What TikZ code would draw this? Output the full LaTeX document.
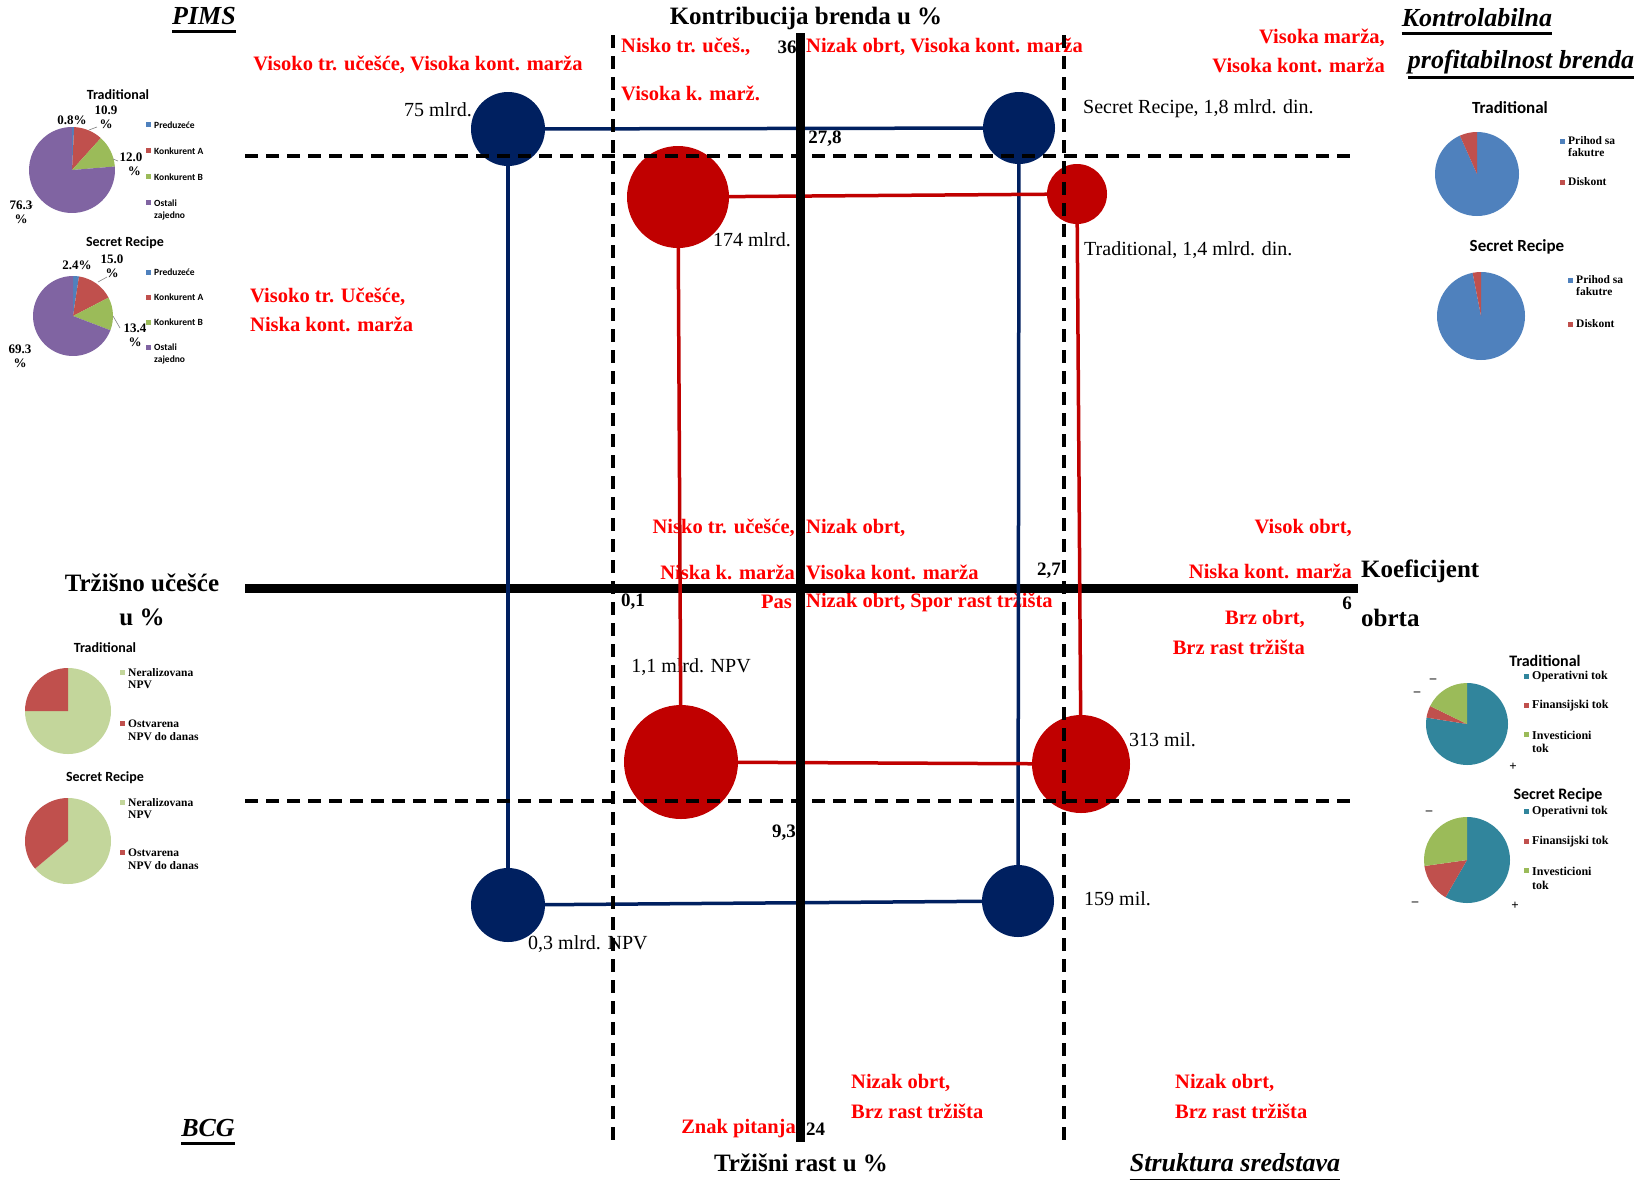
\documentclass[tikz,border=0pt]{standalone}
\usepackage{fontspec}
\setmainfont{Liberation Serif}
\newfontfamily\calib{Carlito}
\definecolor{navy}{HTML}{002060}
\definecolor{dred}{HTML}{C00000}
\definecolor{tred}{HTML}{FF0000}
\definecolor{pblue}{HTML}{4F81BD}
\definecolor{pred}{HTML}{C0504D}
\definecolor{pgreen}{HTML}{9BBB59}
\definecolor{ppurple}{HTML}{8064A2}
\definecolor{plgreen}{HTML}{C3D69B}
\definecolor{pteal}{HTML}{31859C}
\newcommand\drawmypie[3]{\begin{scope}[shift={(#1)},yscale=-1]
\foreach \c/\a/\b in {#3}{\fill[fill=\c] (0,0) -- (\a:#2) arc[start angle=\a,end angle=\b,radius=#2] -- cycle;}
\end{scope}}
\tikzset{
 redlbl/.style={text=tred, font=\fontsize{20.5}{22}\selectfont\bfseries, inner sep=0},
 numlbl/.style={font=\fontsize{19}{21}\selectfont\bfseries, inner sep=0},
 vallbl/.style={font=\fontsize{20}{22}\selectfont, inner sep=0},
 axtitle/.style={font=\fontsize{25}{27}\selectfont\bfseries, inner sep=0},
 cornertitle/.style={font=\fontsize{26}{28}\selectfont\bfseries\itshape, inner sep=0},
 pietitle/.style={font=\calib\bfseries\fontsize{14}{15}\selectfont, inner sep=0},
 legsans/.style={font=\calib\bfseries\fontsize{9.5}{11}\selectfont, inner sep=0, anchor=west},
 legserif/.style={font=\bfseries\fontsize{11.5}{13}\selectfont, inner sep=0, anchor=west},
 legserifb/.style={font=\bfseries\fontsize{12}{13}\selectfont, inner sep=0, anchor=west},
 pct/.style={font=\bfseries\fontsize{13}{14}\selectfont, inner sep=0},
 sign/.style={font=\bfseries\fontsize{13}{14}\selectfont, inner sep=0},
 navyball/.style={circle, fill=navy, inner sep=0},
 redball/.style={circle, fill=dred, inner sep=0},
 navyline/.style={draw=navy, line width=3.5pt},
 redline/.style={draw=dred, line width=3.5pt},
 axisline/.style={line width=9pt},
 dashline/.style={line width=4pt, dash pattern=on 13pt off 8pt},
 uline/.style={line width=3pt},
 leader/.style={draw=gray, line width=0.6pt},
}
\begin{document}
\begin{tikzpicture}[x=1pt,y=-1pt]
\useasboundingbox (0,0) rectangle (1648,1179);
\fill[white] (0,0) rectangle (1648,1179);

% ---------- corner titles ----------
\node[cornertitle] (pims) at (204,16) {PIMS};
\draw[uline] ([yshift=-7pt]pims.base west) -- ([yshift=-7pt]pims.base east);
\node[cornertitle] (kontr) at (1477,18) {Kontrolabilna};
\draw[uline] ([yshift=-7pt]kontr.base west) -- ([yshift=-7pt]kontr.base east);
\node[cornertitle] (profit) at (1521,62) {profitabilnost brenda};
\draw[uline] ([yshift=-9pt]profit.base west) -- ([yshift=-9pt]profit.base east);
\node[cornertitle] (bcg) at (208,1128) {BCG};
\draw[uline] ([yshift=-7pt]bcg.base west) -- ([yshift=-7pt]bcg.base east);
\node[cornertitle] (struk) at (1235,1163) {Struktura sredstava};
\draw[uline] ([yshift=-9pt]struk.base west) -- ([yshift=-9pt]struk.base east);

% ---------- axis titles ----------
\node[axtitle] (ytop) at (806,18) {Kontribucija brenda u \%};
\node[axtitle] (ybot) at (801,1163) {Tržišni rast u \%};
\node[axtitle] (xl1) at (142,583) {Tržišno učešće};
\node[axtitle] (xl2) at (142,617) {u \%};
\node[axtitle, anchor=west] (xr1) at (1361,571) {Koeficijent};
\node[axtitle, anchor=west] (xr2) at (1361,618) {obrta};

% ---------- red quadrant labels ----------
\node[redlbl] (r1) at (418,65) {Visoko tr. učešće, Visoka kont. marža};
\node[redlbl, anchor=west] (r2) at (621,47) {Nisko tr. učeš.,};
\node[redlbl, anchor=west] (r3) at (621,93) {Visoka k. marž.};
\node[redlbl, anchor=west] (r4) at (806,47) {Nizak obrt, Visoka kont. marža};
\node[redlbl, anchor=east] (r5) at (1385,38) {Visoka marža,};
\node[redlbl, anchor=east] (r6) at (1385,65) {Visoka kont. marža};
\node[redlbl, anchor=west] (r7) at (250,297) {Visoko tr. Učešće,};
\node[redlbl, anchor=west] (r8) at (250,324) {Niska kont. marža};
\node[redlbl, anchor=east] (r9) at (795,528) {Nisko tr. učešće,};
\node[redlbl, anchor=west] (r10) at (806,528) {Nizak obrt,};
\node[redlbl, anchor=east] (r11) at (795,572) {Niska k. marža};
\node[redlbl, anchor=west] (r12) at (806,572) {Visoka kont. marža};
\node[redlbl, anchor=east] (r13) at (1352,528) {Visok obrt,};
\node[redlbl, anchor=east] (r14) at (1352,571) {Niska kont. marža};
\node[redlbl, anchor=east] (r15) at (792,602) {Pas};
\node[redlbl, anchor=west] (r16) at (806,602) {Nizak obrt, Spor rast tržišta};
\node[redlbl, anchor=east] (r17) at (1305,619) {Brz obrt,};
\node[redlbl, anchor=east] (r18) at (1305,647) {Brz rast tržišta};
\node[redlbl, anchor=west] (r19) at (851,1083) {Nizak obrt,};
\node[redlbl, anchor=west] (r20) at (851,1111) {Brz rast tržišta};
\node[redlbl, anchor=west] (r21) at (1175,1083) {Nizak obrt,};
\node[redlbl, anchor=west] (r22) at (1175,1111) {Brz rast tržišta};
\node[redlbl, anchor=east] (r23) at (796,1129) {Znak pitanja};

% ---------- numbers ----------
\node[numlbl] (n36) at (787,47) {36};
\node[numlbl] (n278) at (825,139) {27,8};
\node[numlbl] (n27) at (1049,571) {2,7};
\node[numlbl] (n01) at (633,602) {0,1};
\node[numlbl] (n6) at (1347,603) {6};
\node[numlbl] (n93) at (784,833) {9,3};
\node[numlbl, anchor=west] (n24) at (806,1129) {24};

% ---------- value labels ----------
\node[vallbl, anchor=east] (v1) at (472,110) {75 mlrd.};
\node[vallbl, anchor=west] (v2) at (1083,109) {Secret Recipe, 1,8 mlrd. din.};
\node[vallbl] (v3) at (752,240) {174 mlrd.};
\node[vallbl, anchor=west] (v4) at (1084,250) {Traditional, 1,4 mlrd. din.};
\node[vallbl] (v5) at (691,667) {1,1 mlrd. NPV};
\node[vallbl, anchor=west] (v6) at (1129,740) {313 mil.};
\node[vallbl, anchor=west] (v7) at (1084,899) {159 mil.};
\node[vallbl, anchor=west] (v8) at (528,944) {0,3 mlrd. NPV};

% ---------- horizontal axis ----------
\draw[axisline] (245,588) -- (1358,588);

% ---------- bubbles and connectors ----------
\node[navyball, minimum size=74pt] (bTL) at (508,129) {};
\node[navyball, minimum size=72pt] (bTR) at (1019,128) {};
\node[navyball, minimum size=74pt] (bBL) at (508,905) {};
\node[navyball, minimum size=72pt] (bBR) at (1018,901) {};
\node[redball, minimum size=102pt] (rTL) at (678,197) {};
\node[redball, minimum size=60pt] (rTR) at (1077,194) {};
\node[redball, minimum size=114pt] (rBL) at (681,762) {};
\node[redball, minimum size=98pt] (rBR) at (1081,764) {};
\draw[navyline] (bTL) -- (bTR);
\draw[navyline] (bTR) -- (bBR);
\draw[navyline] (bBR) -- (bBL);
\draw[navyline] (bBL) -- (bTL);
\draw[redline] (rTL) -- (rTR);
\draw[redline] (rTR) -- (rBR);
\draw[redline] (rBR) -- (rBL);
\draw[redline] (rBL) -- (rTL);

% ---------- vertical axis and dashed lines ----------
\draw[axisline] (800,33) -- (800,1142);
\draw[dashline] (245,156) -- (1356,156);
\draw[dashline] (245,801) -- (1356,801);
\draw[dashline] (613,35) -- (613,1142);
\draw[dashline] (1064,35) -- (1064,1142);

% ---------- top-left pies (PIMS) ----------
\node[pietitle] (tlt1) at (118,95) {Traditional};
\drawmypie{72,170}{43}{pblue/90/87.12, pred/87.12/47.88, pgreen/47.88/4.68, ppurple/4.68/-270}
\draw[leader] (89,130) -- (97,127);
\draw[leader] (113,159) -- (118,161);
\draw[leader] (33,205) -- (28,207);
\node[pct] (p1) at (72,120) {0.8\%};
\node[pct, align=center] (p2) at (106,117) {10.9\\\%};
\node[pct, align=center] (p3) at (131,164) {12.0\\\ \ \%};
\node[pct, align=center] (p4) at (21,212) {76.3\\\%};
\fill[pblue] (146,122) rectangle (151,127);
\node[legsans] (l1) at (154,125) {Preduzeće};
\fill[pred] (146,148) rectangle (151,153);
\node[legsans] (l2) at (154,151) {Konkurent A};
\fill[pgreen] (146,174) rectangle (151,179);
\node[legsans] (l3) at (154,177) {Konkurent B};
\fill[ppurple] (146,200) rectangle (151,205);
\node[legsans] (l4) at (154,203) {Ostali};
\node[legsans] (l5) at (154,216) {zajedno};

\node[pietitle] (tlt2) at (125,243) {Secret Recipe};
\drawmypie{73,316}{40}{pblue/90/81.36, pred/81.36/27.36, pgreen/27.36/-20.88, ppurple/-20.88/-270}
\draw[leader] (98,282) -- (107,277);
\draw[leader] (113,316) -- (120,328);
\node[pct] (p5) at (77,265) {2.4\%};
\node[pct, align=center] (p6) at (112,266) {15.0\\\%};
\node[pct, align=center] (p7) at (135,335) {13.4\\\%};
\node[pct, align=center] (p8) at (20,356) {69.3\\\%};
\fill[pblue] (146,270) rectangle (151,275);
\node[legsans] (l6) at (154,272) {Preduzeće};
\fill[pred] (146,295) rectangle (151,300);
\node[legsans] (l7) at (154,297) {Konkurent A};
\fill[pgreen] (146,320) rectangle (151,325);
\node[legsans] (l8) at (154,322) {Konkurent B};
\fill[ppurple] (146,345) rectangle (151,350);
\node[legsans] (l9) at (154,347) {Ostali};
\node[legsans] (l10) at (154,360) {zajedno};

% ---------- top-right pies ----------
\node[pietitle, font=\calib\bfseries\fontsize{17}{18}\selectfont] (trt1) at (1510,108) {Traditional};
\drawmypie{1477,174}{42}{pblue/90/-246, pred/-246/-270}
\fill[pblue] (1560,139) rectangle (1565,144);
\node[legserif] (l11) at (1568,141) {Prihod sa};
\node[legserif] (l12) at (1568,153) {fakutre};
\fill[pred] (1560,180) rectangle (1565,185);
\node[legserif] (l13) at (1568,182) {Diskont};
\node[pietitle, font=\calib\bfseries\fontsize{17}{18}\selectfont] (trt2) at (1517,247) {Secret Recipe};
\drawmypie{1481,316}{44}{pblue/90/-259, pred/-259/-270}
\fill[pblue] (1568,278) rectangle (1573,283);
\node[legserif] (l14) at (1576,280) {Prihod sa};
\node[legserif] (l15) at (1576,292) {fakutre};
\fill[pred] (1568,322) rectangle (1573,327);
\node[legserif] (l16) at (1576,324) {Diskont};

% ---------- bottom-left pies (BCG) ----------
\node[pietitle] (blt1) at (105,648) {Traditional};
\drawmypie{68,711}{43}{plgreen/90/-180, pred/-180/-270}
\fill[plgreen] (120,670) rectangle (125,675);
\node[legserif] (l17) at (128,673) {Neralizovana};
\node[legserif] (l18) at (128,685) {NPV};
\fill[pred] (120,721) rectangle (125,726);
\node[legserif] (l19) at (128,724) {Ostvarena};
\node[legserif] (l20) at (128,737) {NPV do danas};
\node[pietitle] (blt2) at (105,778) {Secret Recipe};
\drawmypie{68,841}{43}{plgreen/90/-140, pred/-140/-270}
\fill[plgreen] (120,800) rectangle (125,805);
\node[legserif] (l21) at (128,803) {Neralizovana};
\node[legserif] (l22) at (128,815) {NPV};
\fill[pred] (120,850) rectangle (125,855);
\node[legserif] (l23) at (128,853) {Ostvarena};
\node[legserif] (l24) at (128,866) {NPV do danas};

% ---------- bottom-right pies (Struktura) ----------
\node[pietitle, font=\calib\bfseries\fontsize{16}{17}\selectfont] (brt1) at (1545,661) {Traditional};
\drawmypie{1467,724}{41}{pteal/90/-189, pred/-189/-206, pgreen/-206/-270}
\fill[pteal] (1524,674) rectangle (1529,679);
\node[legserifb] (l25) at (1532,677) {Operativni tok};
\fill[pred] (1524,703) rectangle (1529,708);
\node[legserifb] (l26) at (1532,706) {Finansijski tok};
\fill[pgreen] (1524,732) rectangle (1529,737);
\node[legserifb] (l27) at (1532,735) {Investicioni};
\node[legserifb] (l28) at (1532,748) {tok};
\node[sign] (s1) at (1433,681) {--};
\node[sign] (s2) at (1417,694) {--};
\node[sign] (s3) at (1513,767) {+};
\node[pietitle, font=\calib\bfseries\fontsize{16}{17}\selectfont] (brt2) at (1558,795) {Secret Recipe};
\drawmypie{1467,860}{43}{pteal/90/-120, pred/-120/-172, pgreen/-172/-270}
\fill[pteal] (1524,809) rectangle (1529,814);
\node[legserifb] (l29) at (1532,812) {Operativni tok};
\fill[pred] (1524,839) rectangle (1529,844);
\node[legserifb] (l30) at (1532,842) {Finansijski tok};
\fill[pgreen] (1524,868) rectangle (1529,873);
\node[legserifb] (l31) at (1532,871) {Investicioni};
\node[legserifb] (l32) at (1532,885) {tok};
\node[sign] (s4) at (1429,813) {--};
\node[sign] (s5) at (1415,904) {--};
\node[sign] (s6) at (1515,906) {+};
\end{tikzpicture}
\end{document}
